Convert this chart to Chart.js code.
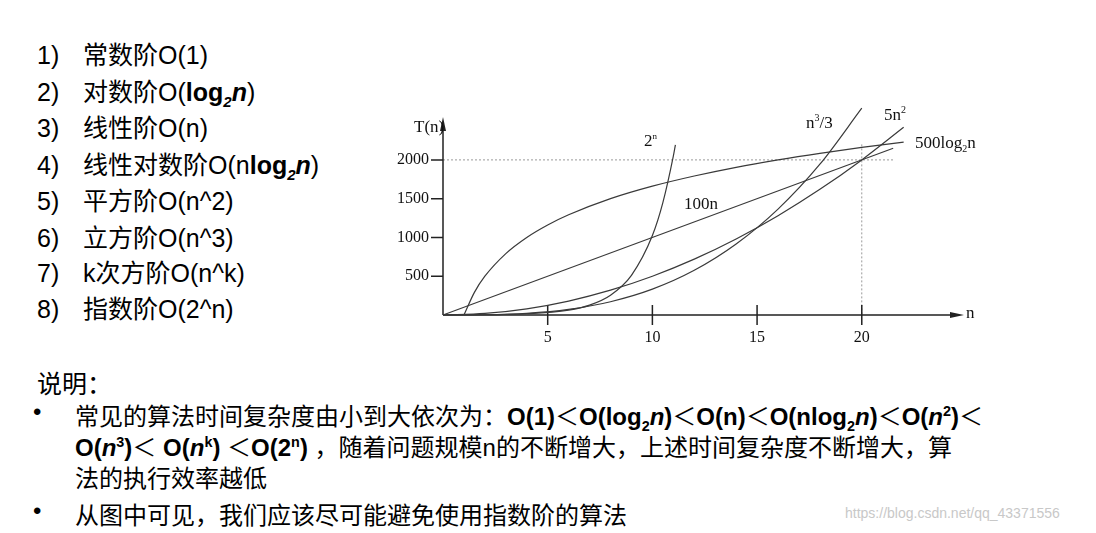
<!DOCTYPE html>
<html>
<head>
<meta charset="utf-8">
<script src="https://cdn.jsdelivr.net/npm/chart.js@4"></script>
<style>
  body { margin: 0; width: 1096px; height: 533px; background: #fff; position: relative; overflow: hidden;
         font-family: "Liberation Sans", "Noto Sans CJK SC", sans-serif; color: #000; }
  .item { position: absolute; left: 37px; font-size: 25px; display: flex; white-space: nowrap; line-height: 30px; }
  .item .n { width: 46px; }
  .t { position: absolute; white-space: nowrap; }
  .lbl { position: absolute; font-family: "Liberation Serif", serif; font-size: 17px; white-space: nowrap; color: #111; }
  b sub, b sup { font-size: 60%; }
  #wrap { position: absolute; left: 385px; top: 100px; width: 615px; height: 250px; }
</style>
</head>
<body>
<div class="item" style="top:40px"><span class="n">1)</span><span>常数阶O(1)</span></div>
<div class="item" style="top:77px"><span class="n">2)</span><span>对数阶O(<b>log<sub><i>2</i></sub><i>n</i></b>)</span></div>
<div class="item" style="top:113px"><span class="n">3)</span><span>线性阶O(n)</span></div>
<div class="item" style="top:150px"><span class="n">4)</span><span>线性对数阶O(n<b>log<sub><i>2</i></sub><i>n</i></b>)</span></div>
<div class="item" style="top:186px"><span class="n">5)</span><span>平方阶O(n^2)</span></div>
<div class="item" style="top:223px"><span class="n">6)</span><span>立方阶O(n^3)</span></div>
<div class="item" style="top:258px"><span class="n">7)</span><span>k次方阶O(n^k)</span></div>
<div class="item" style="top:294px"><span class="n">8)</span><span>指数阶O(2^n)</span></div>

<div class="t" style="left:37px;top:364px;font-size:25px">说明：</div>
<div class="t" style="left:33px;top:398px;font-size:24px">•</div>
<div class="t" style="left:75px;top:397px;font-size:24px">常见的算法时间复杂度由小到大依次为：<b>O(1)</b>＜<b>O(log<sub>2</sub><i>n</i>)</b>＜<b>O(n)</b>＜<b>O(nlog<sub>2</sub><i>n</i>)</b>＜<b>O(<i>n</i><sup>2</sup>)</b>＜</div>
<div class="t" style="left:75px;top:428px;font-size:24px"><b>O(<i>n</i><sup>3</sup>)</b>＜ <b>O(<i>n</i><sup>k</sup>)</b> ＜<b>O(2<sup>n</sup>)</b> ，随着问题规模n的不断增大，上述时间复杂度不断增大，算</div>
<div class="t" style="left:75px;top:459px;font-size:24px">法的执行效率越低</div>
<div class="t" style="left:33px;top:497px;font-size:24px">•</div>
<div class="t" style="left:75px;top:496px;font-size:24px">从图中可见，我们应该尽可能避免使用指数阶的算法</div>
<div class="t" style="left:845px;top:505px;font-size:14px;color:#c8c8c8">https://blog.csdn.net/qq_43371556</div>

<div id="wrap"><canvas id="c" width="615" height="250"></canvas></div>
<div class="lbl" style="left:414px;top:117px">T(n)</div>
<div class="lbl" style="left:644px;top:131px">2<sup style="font-size:9px">n</sup></div>
<div class="lbl" style="left:806px;top:112px">n<sup style="font-size:10px">3</sup>/3</div>
<div class="lbl" style="left:884px;top:104px">5n<sup style="font-size:10px">2</sup></div>
<div class="lbl" style="left:915px;top:133px">500log<sub style="font-size:10px">2</sub>n</div>
<div class="lbl" style="left:684px;top:194px">100n</div>
<div class="lbl" style="left:966px;top:303px">n</div>

<script>
// values
const exp2N = [0, 2, 4, 6, 7, 8, 9, 10, 10.5, 11, 11.1];
const exp2V = [1, 4, 16, 64, 128, 256, 512, 1024, 1448, 2048, 2195];
const logN = [1, 1.5, 2, 3, 4, 5, 6, 8, 10, 12, 14, 16, 18, 20, 22];
const logV = [0, 292, 500, 792, 1000, 1161, 1292, 1500, 1661, 1792, 1904, 2000, 2085, 2161, 2230];
const linN = [0, 21.5];
const linV = [0, 2150];
const sqN = [0, 2, 4, 6, 8, 10, 12, 14, 16, 18, 20, 22];
const sqV = [0, 20, 80, 180, 320, 500, 720, 980, 1280, 1620, 2000, 2420];
const cubeN = [0, 2, 4, 6, 8, 10, 12, 14, 16, 18, 20];
const cubeV = [0, 3, 21, 72, 171, 333, 576, 915, 1365, 1944, 2667];
const xTicks = [5, 10, 15, 20];
const yTicks = [500, 1000, 1500, 2000];

const pts = (xs, ys) => xs.map((x, i) => ({ x: x, y: ys[i] }));
const line = (data) => ({
  data: data, borderColor: '#3a3a3a', borderWidth: 1.2, pointRadius: 0,
  cubicInterpolationMode: 'monotone', clip: false, fill: false
});

// hand drawn axes, arrows, ticks and the dotted guides
const axesPlugin = {
  id: 'axes',
  beforeDatasetsDraw(chart) {
    const { ctx, scales: { x, y } } = chart;
    const x0 = x.getPixelForValue(0), y0 = y.getPixelForValue(0);
    ctx.save();
    ctx.strokeStyle = '#999'; ctx.lineWidth = 1; ctx.setLineDash([2, 2]);
    ctx.beginPath();
    ctx.moveTo(x0, y.getPixelForValue(2000)); ctx.lineTo(x.getPixelForValue(21.5), y.getPixelForValue(2000));
    ctx.moveTo(x.getPixelForValue(20), y.getPixelForValue(2200)); ctx.lineTo(x.getPixelForValue(20), y0);
    ctx.stroke();
    ctx.setLineDash([]);
    ctx.strokeStyle = '#222'; ctx.lineWidth = 1.5;
    ctx.beginPath();
    ctx.moveTo(x0, y0); ctx.lineTo(x.right, y0);
    ctx.moveTo(x0, y0); ctx.lineTo(x0, y.top);
    xTicks.forEach(v => { const p = x.getPixelForValue(v); ctx.moveTo(p, y0 - 10); ctx.lineTo(p, y0 + 10); });
    yTicks.forEach(v => { const p = y.getPixelForValue(v); ctx.moveTo(x0 - 12, p); ctx.lineTo(x0, p); });
    ctx.stroke();
    ctx.fillStyle = '#222';
    ctx.beginPath();
    ctx.moveTo(x.right + 8, y0); ctx.lineTo(x.right - 6, y0 - 3); ctx.lineTo(x.right - 6, y0 + 3); ctx.fill();
    ctx.beginPath();
    ctx.moveTo(x0, y.top - 8); ctx.lineTo(x0 - 3, y.top + 6); ctx.lineTo(x0 + 3, y.top + 6); ctx.fill();
    ctx.font = '16px "Liberation Serif", serif';
    ctx.fillStyle = '#111';
    ctx.textAlign = 'center'; ctx.textBaseline = 'top';
    xTicks.forEach(v => ctx.fillText(String(v), x.getPixelForValue(v), y0 + 15));
    ctx.textAlign = 'right'; ctx.textBaseline = 'middle';
    yTicks.forEach(v => ctx.fillText(String(v), x0 - 14, y.getPixelForValue(v)));
    ctx.restore();
  }
};

new Chart(document.getElementById('c'), {
  type: 'line',
  data: {
    datasets: [
      line(pts(exp2N, exp2V)),
      line(pts(logN, logV)),
      line(pts(linN, linV)),
      line(pts(sqN, sqV)),
      line(pts(cubeN, cubeV))
    ]
  },
  options: {
    responsive: false,
    animation: false,
    layout: { padding: { left: 58, right: 44, top: 25, bottom: 35 } },
    plugins: { legend: { display: false }, tooltip: { enabled: false } },
    scales: {
      x: { type: 'linear', min: 0, max: 24.5, display: false },
      y: { type: 'linear', min: 0, max: 2450, display: false }
    }
  },
  plugins: [axesPlugin]
});
</script>
</body>
</html>
